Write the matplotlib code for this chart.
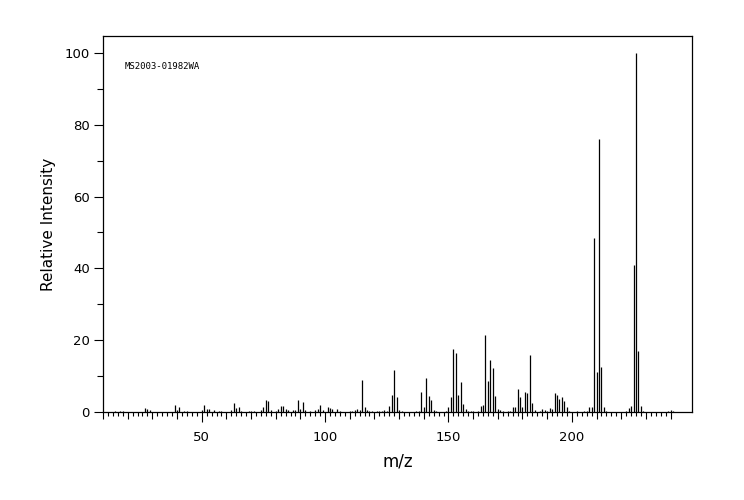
import numpy as np
import matplotlib.pyplot as plt
from matplotlib.ticker import MultipleLocator, FixedLocator

# Peak list (m/z, relative intensity in %)
mz = [15, 17, 18, 27, 28, 29, 39, 40, 41, 43, 44, 50, 51, 52, 53, 55, 57, 58,
      62, 63, 64, 65, 66, 69, 70, 71, 74, 75, 76, 77, 78, 80, 81, 82, 83, 84,
      85, 87, 88, 89, 90, 91, 92, 94, 96, 97, 98, 99, 101, 102, 103, 105, 106,
      110, 111, 112, 113, 114, 115, 116, 117, 118, 119, 121, 122, 123, 124,
      125, 126, 127, 128, 129, 130, 131, 137, 138, 139, 140, 141, 142, 143,
      144, 145, 149, 150, 151, 152, 153, 154, 155, 156, 157, 158, 159, 160,
      162, 163, 164, 165, 166, 167, 168, 169, 170, 171, 172, 174, 175, 176,
      177, 178, 179, 180, 181, 182, 183, 184, 185, 187, 188, 189, 190, 191,
      192, 193, 194, 195, 196, 197, 198, 199, 202, 205, 206, 207, 208, 209,
      210, 211, 212, 213, 214, 222, 223, 224, 225, 226, 227, 228, 229, 239,
      240, 241]
intensity = [0.3, 0.3, 0.3, 1.0, 0.8, 0.6, 1.9, 0.5, 1.3, 0.4, 0.3, 0.6, 2.0, 0.7, 0.8, 0.5, 0.4, 0.4,
             0.6, 2.5, 1.0, 1.3, 0.4, 0.4, 0.4, 0.4, 0.6, 1.5, 3.3, 3.0, 0.6, 0.3, 0.8, 1.8, 1.8, 0.8,
             0.5, 0.6, 0.5, 3.3, 0.9, 2.9, 0.5, 0.4, 0.6, 0.8, 2.0, 0.6, 1.4, 1.1, 0.8, 0.8, 0.3,
             0.3, 0.3, 0.6, 0.8, 0.6, 8.9, 1.3, 0.6, 0.3, 0.3, 0.2, 0.3, 0.3, 0.5,
             0.4, 1.7, 4.7, 11.7, 4.3, 0.6, 0.3, 0.3, 0.3, 5.7, 1.3, 9.6, 4.5, 3.3,
             0.6, 0.3, 0.4, 1.4, 4.2, 17.5, 16.4, 4.7, 8.4, 2.2, 0.8, 0.4, 0.3, 0.2,
             0.4, 1.7, 2.0, 21.4, 8.6, 14.5, 12.3, 4.5, 0.7, 0.5, 0.3, 0.3, 0.4, 1.3,
             1.3, 6.4, 4.2, 1.4, 5.7, 5.3, 15.9, 2.4, 0.5, 0.3, 0.7, 0.5, 0.4, 1.2,
             0.9, 5.2, 4.6, 3.5, 4.1, 3.0, 1.5, 0.3, 0.3, 0.3, 0.4, 1.4, 1.4, 48.5,
             11.2, 76.1, 12.4, 1.3, 0.4, 0.4, 1.0, 1.6, 41.0, 100.0, 16.9, 1.8, 0.4, 0.4,
             0.6, 0.4]

x_labels = [50, 100, 150, 200]
y_labels = [0, 20, 40, 60, 80, 100]
spectrum_id = "MS2003-01982WA"

fig = plt.figure(figsize=(7.44, 5), dpi=100)
ax = fig.add_axes([103 / 744, 1 - 412 / 500, 589 / 744, 376 / 500])

ax.vlines(mz, 0, intensity, color='black', linewidth=0.9)

ax.set_xlim(10, 248.7)
ax.set_ylim(0, 104.7)

# x ticks: long at 50s (labelled), medium every 10, short every 2
ax.xaxis.set_major_locator(FixedLocator(x_labels))
ax.xaxis.set_minor_locator(FixedLocator([v for v in range(10, 242, 2) if v % 10 != 0]))
ax.tick_params(axis='x', which='major', length=7.5, width=0.8, labelsize=9.5, pad=6)
ax.tick_params(axis='x', which='minor', length=3, width=0.8)

sec = ax.secondary_xaxis('bottom')
sec.xaxis.set_major_locator(FixedLocator([v for v in range(10, 242, 10) if v % 50 != 0]))
sec.tick_params(axis='x', which='major', length=5, width=0.8, labelbottom=False)
sec.xaxis.set_minor_locator(FixedLocator([]))
sec.spines['bottom'].set_visible(False)

# y ticks
ax.yaxis.set_major_locator(FixedLocator(y_labels))
ax.yaxis.set_minor_locator(MultipleLocator(10))
ax.tick_params(axis='y', which='major', length=6.5, width=0.8, labelsize=9.5, pad=3)
ax.tick_params(axis='y', which='minor', length=4, width=0.8)

for s in ax.spines.values():
    s.set_linewidth(0.9)

ax.set_xlabel('m/z', fontsize=12, labelpad=6)
ax.set_ylabel('Relative Intensity', fontsize=11, labelpad=6)

ax.text(0.037, 0.918, spectrum_id, transform=ax.transAxes, fontsize=6.5,
        family='DejaVu Sans Mono', va='center', ha='left')

fig.savefig('out.png', dpi=100)
